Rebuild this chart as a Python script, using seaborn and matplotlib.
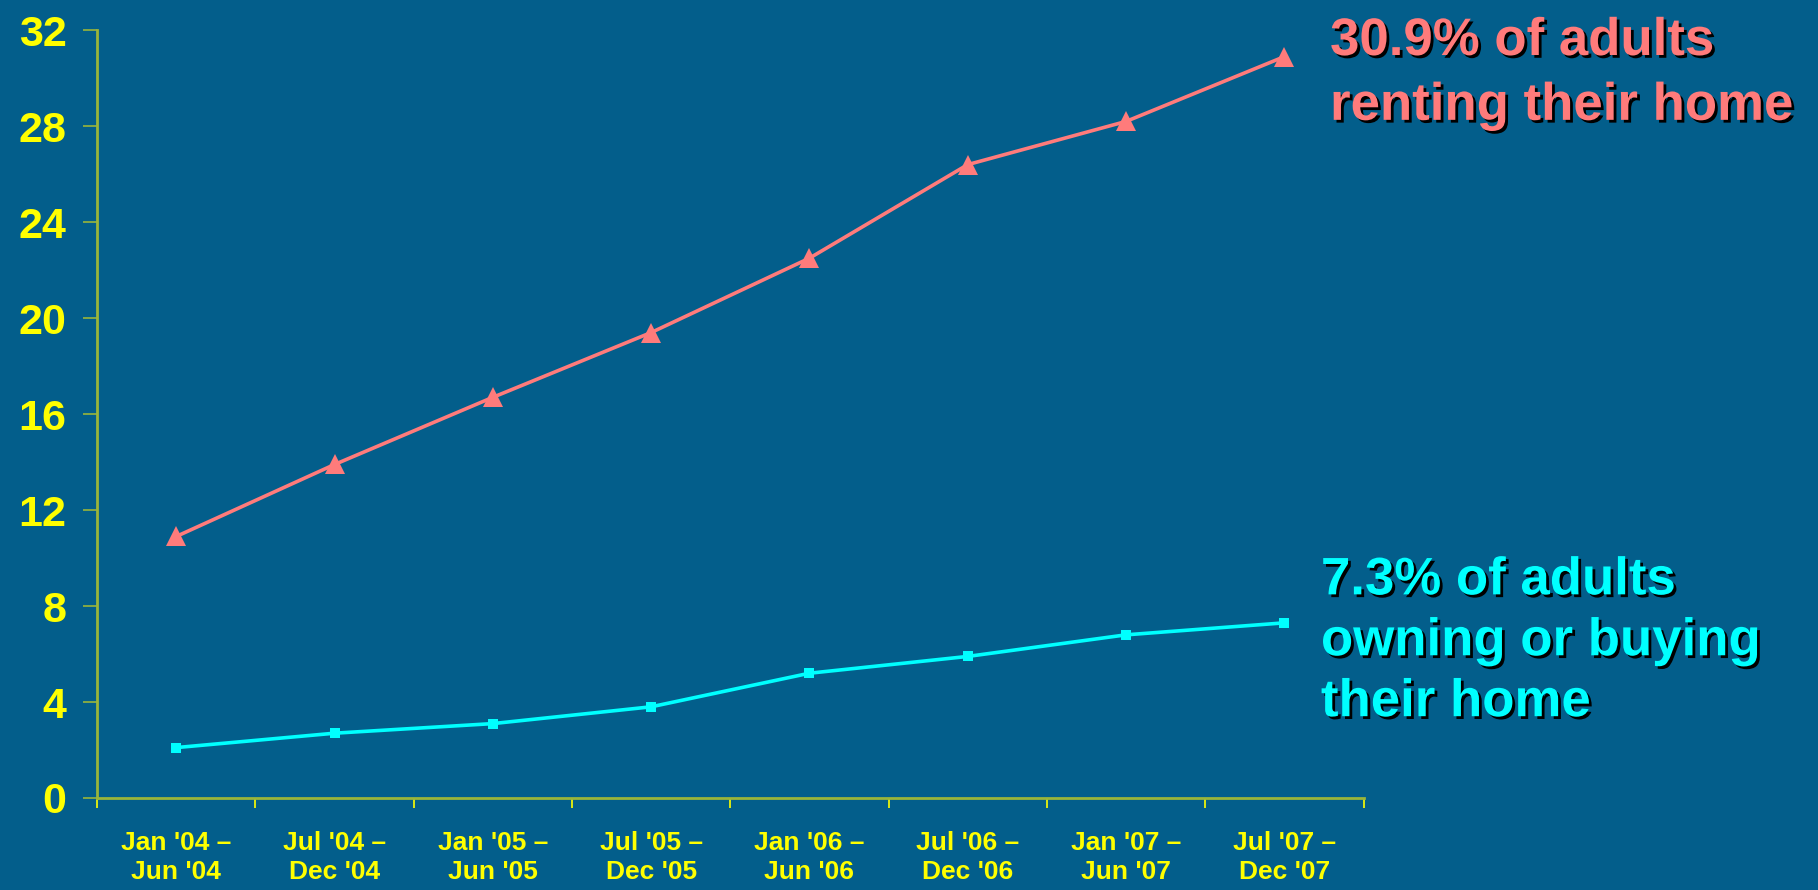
import pandas as pd
import seaborn as sns
import matplotlib.pyplot as plt
import matplotlib.patheffects as pe

# values (% of adults)
periods = ["Jan '04 –\nJun '04", "Jul '04 –\nDec '04", "Jan '05 –\nJun '05", "Jul '05 –\nDec '05",
           "Jan '06 –\nJun '06", "Jul '06 –\nDec '06", "Jan '07 –\nJun '07", "Jul '07 –\nDec '07"]
renting = [10.9, 13.9, 16.7, 19.4, 22.5, 26.4, 28.2, 30.9]
owning = [2.1, 2.7, 3.1, 3.8, 5.2, 5.9, 6.8, 7.3]
yticks = [0, 4, 8, 12, 16, 20, 24, 28, 32]

bg = '#035E8B'
axis_col = '#9AB53A'
yellow = '#FFFF00'
red = '#FF7B7B'
cyan = '#00FFFF'

df = pd.DataFrame({'idx': list(range(len(periods))) * 2,
                   'value': renting + owning,
                   'group': ['rent'] * len(renting) + ['own'] * len(owning)})

sns.set_style('ticks')
plt.rcParams['font.family'] = ['Liberation Sans', 'DejaVu Sans']

fig = plt.figure(figsize=(18.18, 8.9), dpi=100, facecolor=bg)
ax = fig.add_axes([0.0534, 0.1034, 0.6966, 0.8626])
ax.set_facecolor(bg)

sns.lineplot(data=df[df.group == 'rent'], x='idx', y='value', color=red, lw=2.6,
             marker='^', markersize=15, markeredgewidth=0, ax=ax)
sns.lineplot(data=df[df.group == 'own'], x='idx', y='value', color=cyan, lw=2.6,
             marker='s', markersize=6.5, markeredgewidth=0, ax=ax)

ax.set_xlim(-0.5, len(periods) - 0.5)
ax.set_ylim(0, 32)
ax.set_yticks(yticks)
ax.set_yticklabels([str(v) for v in yticks], fontsize=31, fontweight='bold', color=yellow)

# boundary ticks between periods, labels centred under each point
ax.set_xticks([i - 0.5 for i in range(len(periods) + 1)])
ax.set_xticklabels([])
ax.set_xticks(range(len(periods)), minor=True)
ax.set_xticklabels(periods, minor=True, fontsize=19, fontweight='bold', color=yellow,
                   linespacing=1.25)
ax.tick_params(axis='x', which='minor', length=0, pad=24)
ax.tick_params(axis='x', which='major', length=7, width=1.2, color=yellow, direction='out')
ax.tick_params(axis='y', length=10, width=1.2, color=axis_col, pad=12)

ax.set_xlabel('')
ax.set_ylabel('')
for side in ['top', 'right']:
    ax.spines[side].set_visible(False)
for side in ['left', 'bottom']:
    ax.spines[side].set_color(axis_col)
    ax.spines[side].set_linewidth(2)

shadow = [pe.SimplePatchShadow(offset=(2, -2), shadow_rgbFace='black', alpha=1), pe.Normal()]
fig.text(0.7316, 0.982, '30.9% of adults\nrenting their home', fontsize=38, fontweight='bold',
         color=red, va='top', ha='left', linespacing=1.38, path_effects=shadow)
fig.text(0.7266, 0.376, '7.3% of adults\nowning or buying\ntheir home', fontsize=38, fontweight='bold',
         color=cyan, va='top', ha='left', linespacing=1.28, path_effects=shadow)

plt.savefig('out.png', dpi=100, facecolor=bg)
